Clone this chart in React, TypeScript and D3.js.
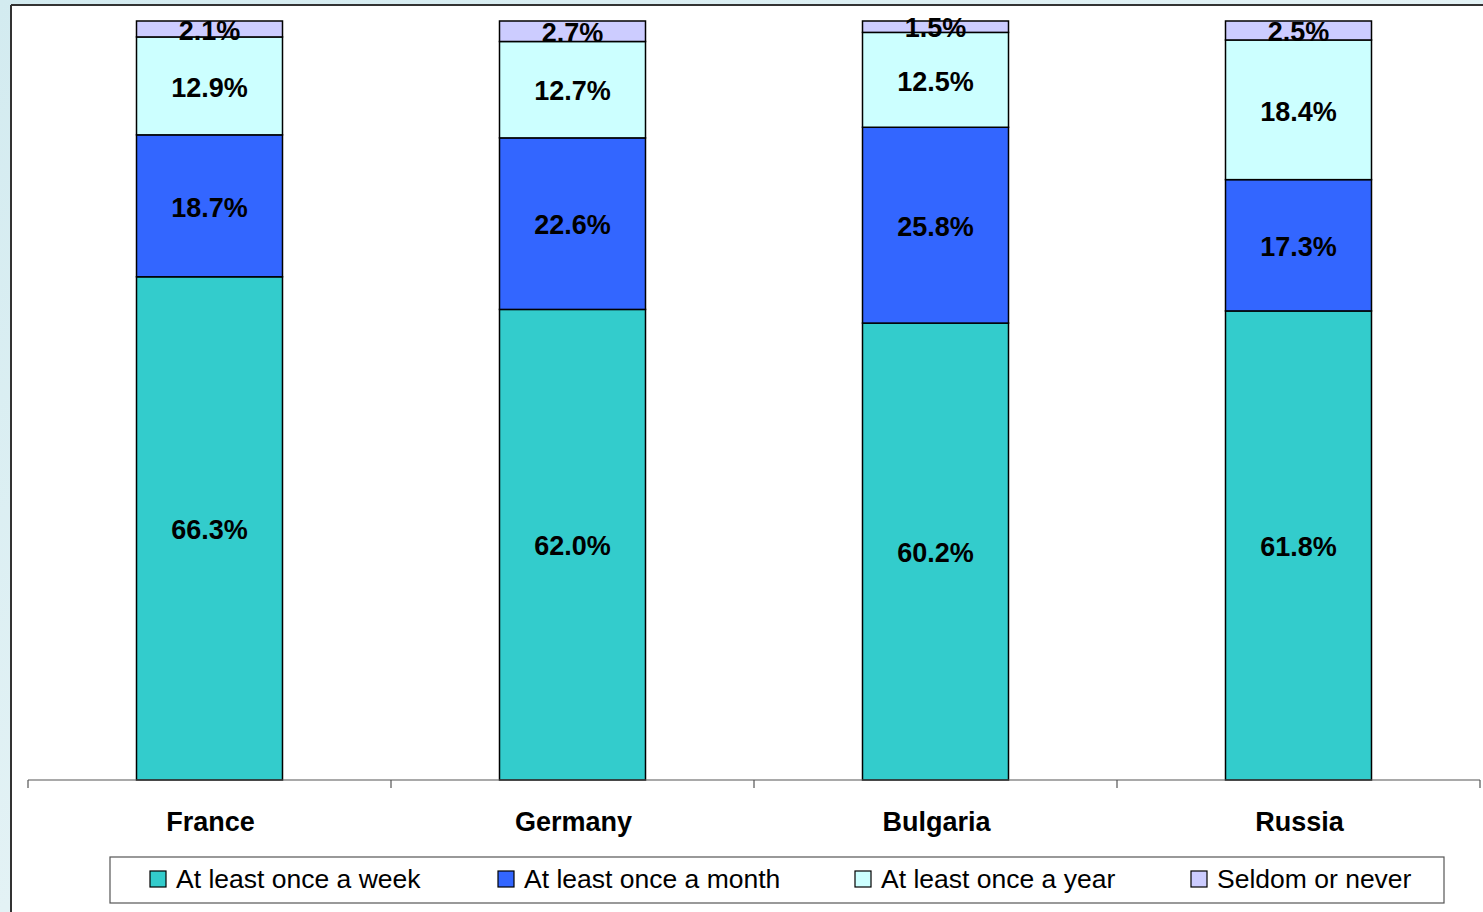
import React from "react";
import * as d3 from "d3";

const categories = ["France", "Germany", "Bulgaria", "Russia"];
const seriesNames = ["At least once a week", "At least once a month", "At least once a year", "Seldom or never"];
const weekly = [66.3, 62.0, 60.2, 61.8];
const monthly = [18.7, 22.6, 25.8, 17.3];
const yearly = [12.9, 12.7, 12.5, 18.4];
const seldom = [2.1, 2.7, 1.5, 2.5];
const colors = ["#33CCCC", "#3366FF", "#CCFFFF", "#CCCCFF"];

const W = 1483;
const H = 912;

export default function App() {
  const x = d3.scaleBand<string>().domain(categories).range([28, 1480]).paddingInner(0).paddingOuter(0);
  const y = d3.scaleLinear().domain([0, 100]).range([780, 21]);
  const barW = 146;

  const rows = categories.map((c, i) => ({
    cat: c,
    s0: weekly[i],
    s1: monthly[i],
    s2: yearly[i],
    s3: seldom[i],
  }));
  const stack = d3.stack<any>().keys(["s0", "s1", "s2", "s3"]);
  const layers = stack(rows);

  const font = "Liberation Sans, Arial, sans-serif";
  const ticks = [0, 1, 2, 3, 4].map((k) => 28 + k * x.step());
  const legendX = [150, 498, 855, 1191];

  return (
    <svg width={W} height={H} style={{ position: "absolute", left: 0, top: 0 }} fontFamily={font}>
      <defs>
        <linearGradient id="bg" x1="0" y1="0" x2="1" y2="1">
          <stop offset="0" stopColor="#d3ebf0" />
          <stop offset="0.5" stopColor="#e3f2f5" />
          <stop offset="1" stopColor="#c9e2e8" />
        </linearGradient>
      </defs>
      <rect x={0} y={0} width={W} height={H} fill="url(#bg)" />
      <rect x={11} y={5} width={W - 11} height={H - 5} fill="#ffffff" />
      <line x1={11} y1={5} x2={W} y2={5} stroke="#333" strokeWidth={2} />
      <line x1={11} y1={5} x2={11} y2={H} stroke="#333" strokeWidth={2} />

      {layers.map((layer, li) =>
        layer.map((d, i) => {
          const cx = (x(categories[i]) as number) + x.bandwidth() / 2;
          const y0 = y(d[0]);
          const y1 = y(d[1]);
          return (
            <rect key={`${li}-${i}`} x={cx - barW / 2} y={y1} width={barW} height={y0 - y1} fill={colors[li]} stroke="#000" strokeWidth={1.5} />
          );
        })
      )}
      {layers.map((layer, li) =>
        layer.map((d, i) => {
          const cx = (x(categories[i]) as number) + x.bandwidth() / 2;
          const y0 = y(d[0]);
          const y1 = y(d[1]);
          const v = d[1] - d[0];
          return (
            <text key={`t${li}-${i}`} x={cx} y={(y0 + y1) / 2 + 1} dy="0.36em" textAnchor="middle" fontSize={27} fontWeight="bold" fill="#000">
              {v.toFixed(1)}%
            </text>
          );
        })
      )}

      <line x1={28} y1={780} x2={1480} y2={780} stroke="#555" strokeWidth={1.2} />
      {ticks.map((t, i) => (
        <line key={i} x1={t} y1={780} x2={t} y2={788} stroke="#555" strokeWidth={1.2} />
      ))}
      {categories.map((c) => (
        <text key={c} x={(x(c) as number) + x.bandwidth() / 2 + 1} y={831} textAnchor="middle" fontSize={27} fontWeight="bold" fill="#000">
          {c}
        </text>
      ))}

      <rect x={110} y={857} width={1334} height={46} fill="#fff" stroke="#555" strokeWidth={1.2} />
      {seriesNames.map((s, i) => (
        <g key={s}>
          <rect x={legendX[i]} y={871} width={16} height={16} fill={colors[i]} stroke="#000" strokeWidth={1.2} />
          <text x={legendX[i] + 26} y={888} fontSize={26.5} fill="#000">
            {s}
          </text>
        </g>
      ))}
    </svg>
  );
}
